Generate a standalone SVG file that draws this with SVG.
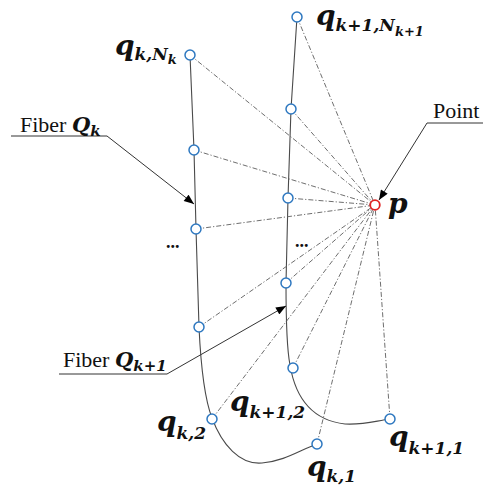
<svg xmlns="http://www.w3.org/2000/svg" width="484" height="489" viewBox="0 0 484 489">
<style>
.fiber{fill:none;stroke:#4a4a4a;stroke-width:1.1}
.dd{fill:none;stroke:#5e5e5e;stroke-width:0.9;stroke-dasharray:5 2 1.2 2}
.node{fill:#fff;stroke:#2e78c0;stroke-width:1.5}
.pt{fill:#fff;stroke:#e02424;stroke-width:1.8}
.ann{fill:none;stroke:#333;stroke-width:1}
.m{font-family:"DejaVu Serif","Liberation Serif",serif;font-weight:bold;font-style:italic;font-size:28px;fill:#111}
.s{font-size:17px}
.ss{font-size:13px}
.lbl{font-family:"Liberation Serif","Times New Roman",serif;font-size:22px;fill:#111}
.lbl .b{font-family:"DejaVu Serif","Liberation Serif",serif;font-weight:bold;font-style:italic;font-size:21px}
.lbl .bs{font-family:"DejaVu Serif","Liberation Serif",serif;font-weight:bold;font-style:italic;font-size:15px}
.dots{font-family:"Liberation Serif",serif;font-weight:bold;font-size:18px;fill:#111}
</style>
<defs>
<marker id="ah" viewBox="0 0 10 8" refX="10" refY="4" markerWidth="11" markerHeight="8" markerUnits="userSpaceOnUse" orient="auto">
<path d="M0,0 L10,4 L0,8 Z" fill="#000"/>
</marker>
</defs>

<g id="fibers">
<path id="fiber-k" class="fiber" d="M190,55 L194,150 L196,229 L199,327 C201,370 205,400 212,418 C222,445 240,465 262,463 C285,461 300,450 317,444"/>
<path id="fiber-k1" class="fiber" d="M297,17 L291,109 L288,198 L286,283 C286,330 287,350 290,365 C295,395 310,420 345,424 C365,425 375,421 390,419"/>
</g>

<g id="connectors">
<line class="dd" x1="190" y1="55" x2="375" y2="205"/>
<line class="dd" x1="194" y1="150" x2="375" y2="205"/>
<line class="dd" x1="196" y1="229" x2="375" y2="205"/>
<line class="dd" x1="199" y1="327" x2="375" y2="205"/>
<line class="dd" x1="212" y1="419" x2="375" y2="205"/>
<line class="dd" x1="317" y1="444" x2="375" y2="205"/>
<line class="dd" x1="297" y1="17" x2="375" y2="205"/>
<line class="dd" x1="291" y1="109" x2="375" y2="205"/>
<line class="dd" x1="288" y1="198" x2="375" y2="205"/>
<line class="dd" x1="286" y1="283" x2="375" y2="205"/>
<line class="dd" x1="293" y1="368" x2="375" y2="205"/>
<line class="dd" x1="390" y1="419" x2="375" y2="205"/>
<polyline class="ann" points="11,136 107,136 194,204" marker-end="url(#ah)"/>
<polyline class="ann" points="483,123 427,123 379,200" marker-end="url(#ah)"/>
<polyline class="ann" points="59,374 167,374 286,306" marker-end="url(#ah)"/>
</g>

<g id="nodes-k">
<circle class="node" cx="190" cy="55" r="5"/>
<circle class="node" cx="194" cy="150" r="5"/>
<circle class="node" cx="196" cy="229" r="5"/>
<circle class="node" cx="199" cy="327" r="5"/>
<circle class="node" cx="212" cy="419" r="5"/>
<circle class="node" cx="317" cy="444" r="5"/>
</g>
<g id="nodes-k1">
<circle class="node" cx="297" cy="17" r="5"/>
<circle class="node" cx="291" cy="109" r="5"/>
<circle class="node" cx="288" cy="198" r="5"/>
<circle class="node" cx="286" cy="283" r="5"/>
<circle class="node" cx="293" cy="368" r="5"/>
<circle class="node" cx="390" cy="419" r="5"/>
</g>
<g id="point-p">
<circle class="pt" cx="375" cy="205" r="4.8"/>
<text class="m" x="388" y="213">p</text>
</g>

<g id="labels">
<text class="m" x="115" y="55">q<tspan class="s" dy="5">k,N</tspan><tspan class="ss" dy="4">k</tspan></text>
<text class="m" x="316" y="25">q<tspan class="s" dy="6">k+1,N</tspan><tspan class="ss" dy="5">k+1</tspan></text>
<text class="m" x="157" y="431">q<tspan class="s" dy="8">k,2</tspan></text>
<text class="m" x="230" y="411">q<tspan class="s" dy="7">k+1,2</tspan></text>
<text class="m" x="389" y="446">q<tspan class="s" dy="8">k+1,1</tspan></text>
<text class="m" x="307" y="476">q<tspan class="s" dy="6">k,1</tspan></text>
<text class="lbl" x="20" y="132">Fiber <tspan class="b">Q</tspan><tspan class="bs" dy="4">k</tspan></text>
<text class="lbl" x="63" y="367">Fiber <tspan class="b">Q</tspan><tspan class="bs" dy="4">k+1</tspan></text>
<text class="lbl" x="433" y="118">Point</text>
<text class="dots" x="166" y="248">...</text>
<text class="dots" x="295" y="247">...</text>
</g>
</svg>
